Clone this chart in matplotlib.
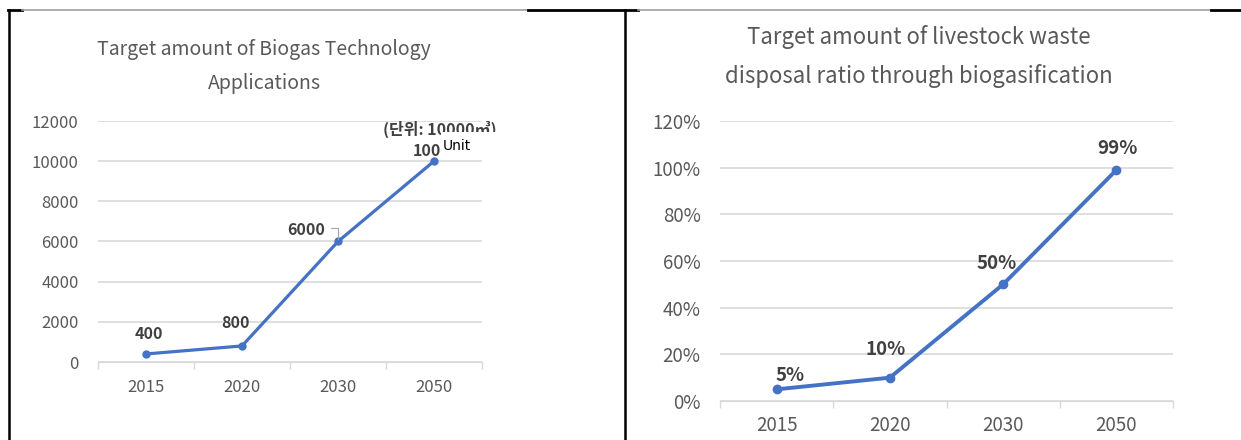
import matplotlib.pyplot as plt
from matplotlib.lines import Line2D
from matplotlib.patches import Rectangle
from matplotlib.ticker import FuncFormatter

plt.rcParams['font.family'] = ['Noto Sans CJK KR', 'DejaVu Sans']

years = ['2015', '2020', '2030', '2050']
biogas = [400, 800, 6000, 10000]
biogas_labels = ['400', '800', '6000', '10000']
waste_ratio = [5, 10, 50, 99]
waste_labels = ['5%', '10%', '50%', '99%']

blue = '#4472C4'
grey_txt = '#595959'
dark_txt = '#404040'
grid_c = '#D9D9D9'

W, H = 1241, 440
fig = plt.figure(figsize=(W / 100, H / 100), dpi=100)


def px(x, y):
    # pixel position -> figure fraction
    return x / W, 1 - y / H


def style_axes(ax, fs, xpad):
    x = range(len(years))
    ax.set_xlim(-0.5, len(years) - 0.5)
    ax.set_xticks(list(x))
    ax.set_xticklabels(years)
    ax.set_xticks([i - 0.5 for i in range(len(years) + 1)], minor=True)
    ax.tick_params(axis='x', which='major', length=0, pad=xpad, labelsize=fs, labelcolor=grey_txt)
    ax.tick_params(axis='x', which='minor', length=5, color=grid_c, width=1)
    ax.tick_params(axis='y', length=0, pad=14, labelsize=fs, labelcolor=grey_txt)
    for s in ['left', 'right', 'top']:
        ax.spines[s].set_visible(False)
    ax.spines['bottom'].set_color(grid_c)
    ax.grid(axis='y', color=grid_c, linewidth=1.2)
    ax.set_axisbelow(True)


# left chart
ax1 = fig.add_axes([98 / W, 1 - 362 / H, 384 / W, 241 / H])
ax1.plot(range(len(years)), biogas, color=blue, lw=2.3, marker='o', ms=5, zorder=3)
ax1.set_ylim(0, 12000)
ax1.set_yticks(range(0, 12001, 2000))
style_axes(ax1, 12, 12)

offs1 = [(3, 20), (-6, 23), (-32, 12), (2, 10)]
for i, (v, t) in enumerate(zip(biogas, biogas_labels)):
    ax1.annotate(t, (i, v), xytext=offs1[i], textcoords='offset pixels',
                 ha='center', va='center', fontsize=11.5, fontweight='bold',
                 color=dark_txt, annotation_clip=False, zorder=4)
# leader line for 6000
ax1.annotate('', (2, biogas[2]), xytext=(-10, 13), textcoords='offset pixels',
             arrowprops=dict(arrowstyle='-', color='#A6A6A6', lw=0.8,
                             connectionstyle='angle,angleA=0,angleB=90,rad=0'))

fig.text(*px(440, 129), '(단위: 10000㎥)', ha='center', va='center',
         fontsize=11.5, color=dark_txt, fontweight='bold')
fig.add_artist(Rectangle(px(441, 158), 55 / W, 26 / H, transform=fig.transFigure,
                         facecolor='white', edgecolor='none', zorder=10))
fig.text(*px(443, 146), 'Unit', ha='left', va='center', fontsize=10,
         color='black', zorder=11, family=['DejaVu Sans'])

fig.text(*px(264, 49), 'Target amount of Biogas Technology', ha='center', va='center',
         fontsize=14, color=grey_txt)
fig.text(*px(264, 83), 'Applications', ha='center', va='center',
         fontsize=14, color=grey_txt)

# right chart
ax2 = fig.add_axes([720 / W, 1 - 401 / H, 453 / W, 280 / H])
ax2.plot(range(len(years)), waste_ratio, color=blue, lw=2.8, marker='o', ms=6, zorder=3)
ax2.set_ylim(0, 120)
ax2.set_yticks(range(0, 121, 20))
ax2.yaxis.set_major_formatter(FuncFormatter(lambda v, p: f'{v:.0f}%'))
style_axes(ax2, 13.5, 10)

offs2 = [(13, 14), (-4, 28), (-6, 21), (1, 21)]
for i, (v, t) in enumerate(zip(waste_ratio, waste_labels)):
    ax2.annotate(t, (i, v), xytext=offs2[i], textcoords='offset pixels',
                 ha='center', va='center', fontsize=13.5, fontweight='bold',
                 color=dark_txt, annotation_clip=False, zorder=4)

fig.text(*px(919, 37), 'Target amount of livestock waste', ha='center', va='center',
         fontsize=16, color=grey_txt)
fig.text(*px(919, 76), 'disposal ratio through biogasification', ha='center', va='center',
         fontsize=16, color=grey_txt)

# table borders around the two pictures
y_top = 1 - 10.5 / H
for x0, x1, c, lw in [(8, 22, 'black', 2), (22, 528, '#A0A0A0', 1.2), (528, 638, 'black', 2),
                      (638, 1211, '#A0A0A0', 1.2), (1211, 1241, 'black', 2)]:
    fig.add_artist(Line2D([x0 / W, x1 / W], [y_top, y_top], color=c, lw=lw))
for xv in [9, 625]:
    fig.add_artist(Line2D([xv / W, xv / W], [y_top, 0], color='black', lw=1.8))

fig.savefig('out.png', dpi=100, facecolor='white')
